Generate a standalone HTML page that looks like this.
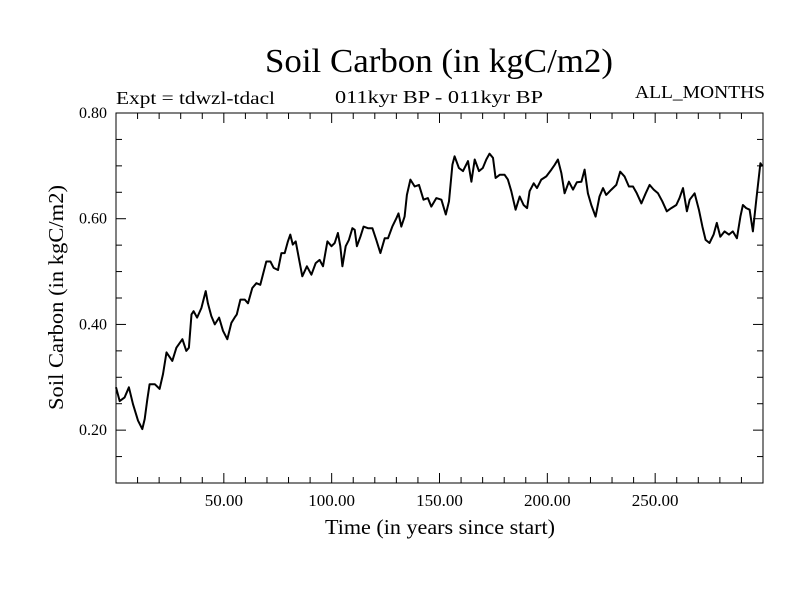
<!DOCTYPE html>
<html><head><meta charset="utf-8"><style>
body{margin:0;background:#fff}
svg text{font-family:"Liberation Serif",serif;fill:#000}
</style></head><body>
<svg width="800" height="600" viewBox="0 0 800 600" xmlns="http://www.w3.org/2000/svg">
<rect width="800" height="600" fill="#fff"/>
<text x="265" y="72" font-size="34" textLength="348" lengthAdjust="spacingAndGlyphs">Soil Carbon (in kgC/m2)</text>
<text x="116" y="104" font-size="18" textLength="159" lengthAdjust="spacingAndGlyphs">Expt = tdwzl-tdacl</text>
<text x="335" y="103" font-size="18" textLength="208" lengthAdjust="spacingAndGlyphs">011kyr BP - 011kyr BP</text>
<text x="635" y="98" font-size="18" textLength="130" lengthAdjust="spacingAndGlyphs">ALL_MONTHS</text>
<text x="325" y="534" font-size="21" textLength="230" lengthAdjust="spacingAndGlyphs">Time (in years since start)</text>
<text transform="translate(63,410) rotate(-90)" font-size="21" textLength="225" lengthAdjust="spacingAndGlyphs">Soil Carbon (in kgC/m2)</text>
<g id="axes"></g>
<rect x="116" y="113" width="647" height="370" fill="none" stroke="#000" stroke-width="1"/>
<path id="line" fill="none" stroke="#000" stroke-width="2" stroke-linejoin="round"/>
</svg>
<script>
const years=[0,1.7,4,6,7.9,10.2,12.2,13.3,14.5,15.6,18,20.2,21.8,23.4,26.1,28,30.8,32.6,33.8,35,36,37.6,39.6,41.6,42.6,44.2,45.8,47.8,49.6,51.6,53.5,55,56,57.7,59.7,61.2,63.2,65.1,66.9,69.7,71.6,73.1,75.1,76.7,78.2,79.7,80.8,82,83.3,84.8,86.4,88.5,90.6,92.6,94.4,96,98,99.9,101.4,102.9,104,105,106.5,108,109.6,110.7,111.7,113.3,114.8,116.8,118.9,120.7,122.6,124.6,126.1,128.1,130,131,132.3,133.8,134.9,136.5,138.5,140.5,142.6,144.6,146.2,148.5,150.9,152.9,154.4,156,157,159,160.9,163.2,164.8,166.3,168.3,170.1,171.7,173.2,174.8,176,177.9,180.2,181.7,183.3,185.3,187.2,189,190.6,191.8,193.7,195.2,197.2,199.5,201.9,203.4,204.9,206.5,208,210,211.9,213.7,215.8,217.3,218.8,220.4,222.4,224.2,225.8,227.3,229.7,232,233.8,235.8,237.8,239.7,241.5,243.6,245.6,247.4,249.3,251.3,253.3,255.4,257.5,259.8,261.3,262.9,264.7,266,268.3,270.3,271.9,273.4,275.2,277.1,278.6,280.2,282.2,284.2,286,287.9,289.5,290.7,292.2,293.8,295.3,296.9,298.8,299.7];
const carbon=[0.281,0.255,0.262,0.281,0.249,0.218,0.202,0.221,0.258,0.287,0.287,0.278,0.306,0.347,0.331,0.356,0.372,0.35,0.356,0.419,0.425,0.413,0.431,0.463,0.44,0.416,0.40,0.413,0.388,0.372,0.403,0.413,0.419,0.447,0.447,0.44,0.469,0.478,0.475,0.519,0.519,0.507,0.503,0.535,0.535,0.557,0.57,0.551,0.557,0.525,0.491,0.51,0.494,0.516,0.522,0.51,0.557,0.548,0.554,0.573,0.548,0.51,0.548,0.56,0.582,0.579,0.548,0.566,0.585,0.582,0.582,0.56,0.535,0.563,0.563,0.585,0.601,0.61,0.585,0.604,0.645,0.674,0.661,0.664,0.636,0.639,0.623,0.639,0.636,0.608,0.633,0.702,0.718,0.696,0.69,0.709,0.67,0.712,0.69,0.696,0.712,0.723,0.715,0.677,0.683,0.683,0.674,0.652,0.617,0.642,0.626,0.62,0.652,0.667,0.658,0.674,0.68,0.693,0.702,0.712,0.686,0.648,0.67,0.655,0.669,0.67,0.693,0.648,0.626,0.604,0.642,0.658,0.645,0.655,0.664,0.689,0.68,0.661,0.661,0.648,0.629,0.648,0.664,0.655,0.648,0.633,0.614,0.62,0.626,0.639,0.658,0.614,0.636,0.648,0.617,0.585,0.56,0.554,0.57,0.592,0.566,0.576,0.57,0.576,0.563,0.604,0.626,0.62,0.617,0.576,0.636,0.705,0.699];
const yTicks=[0.20,0.40,0.60,0.80];
const yTickLabels=["0.20","0.40","0.60","0.80"];
const xTicks=[50,100,150,200,250];
const xTickLabels=["50.00","100.00","150.00","200.00","250.00"];
const X0=116,X1=763,Y0=483,Y1=113,XMIN=0,XMAX=300,YMIN=0.1,YMAX=0.8;
function sx(t){return X0+(t-XMIN)/(XMAX-XMIN)*(X1-X0);}
function sy(v){return Y0-(v-YMIN)/(YMAX-YMIN)*(Y0-Y1);}
const NS='http://www.w3.org/2000/svg';
const ax=document.getElementById('axes');
function ln(x1,y1,x2,y2,name){const l=document.createElementNS(NS,'line');l.setAttribute('x1',x1);l.setAttribute('y1',y1);l.setAttribute('x2',x2);l.setAttribute('y2',y2);l.setAttribute('stroke','#000');


ax.appendChild(l);}
for(let t=10;t<XMAX;t+=10){const x=sx(t);const len=(t%50===0)?10:6;ln(x,Y0,x,Y0-len,'x-tick');ln(x,Y1,x,Y1+len,'x-tick-top');}
for(let v=0.15;v<0.8;v+=0.05){const y=sy(v);const maj=Math.abs(v*5-Math.round(v*5))<1e-6;const len=maj?10:6;ln(X0,y,X0+len,y,'y-tick');ln(X1,y,X1-len,y,'y-tick-right');}
yTicks.forEach((v,i)=>{const t=document.createElementNS(NS,'text');t.setAttribute('x',107);t.setAttribute('y',sy(v)+5);t.setAttribute('font-size','16');t.setAttribute('text-anchor','end');t.textContent=yTickLabels[i];


ax.appendChild(t);});
xTicks.forEach((v,i)=>{const t=document.createElementNS(NS,'text');t.setAttribute('x',sx(v));t.setAttribute('y',506);t.setAttribute('font-size','17');t.setAttribute('text-anchor','middle');t.textContent=xTickLabels[i];


ax.appendChild(t);});
document.getElementById('line').setAttribute('d',years.map((t,i)=>(i?'L':'M')+sx(t).toFixed(1)+','+sy(carbon[i]).toFixed(1)).join(''));
</script>
</body></html>
